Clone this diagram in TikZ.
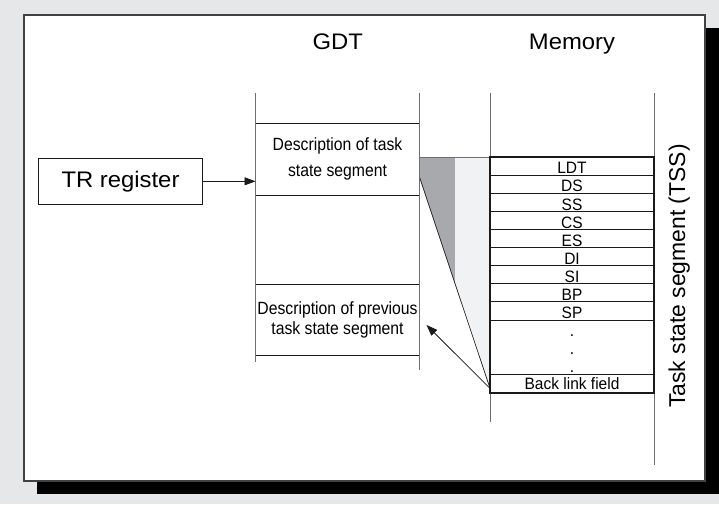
\documentclass[tikz,border=0pt]{standalone}
\usepackage{fontspec}
\setmainfont{Liberation Sans}
\newfontfamily\widefont{Liberation Sans}[FakeStretch=1.06]
\newfontfamily\descfont{Liberation Sans}[FakeStretch=0.89]
\newfontfamily\fieldfont{Liberation Sans}[FakeStretch=0.94]
\usepackage{tikz}
\usetikzlibrary{positioning, arrows.meta}
\definecolor{tssbg}{HTML}{E6E7E8}
\definecolor{tssink}{HTML}{1A1A1A}
\definecolor{tssgrid}{HTML}{6D6E71}
\definecolor{tssdark}{HTML}{A7A9AC}
\definecolor{tsslight}{HTML}{F1F2F3}

\begin{document}
\begin{tikzpicture}[
        x=1pt, y=-1pt,
        every node/.style={inner sep=0pt, outer sep=0pt},
        title/.style={
          font=\widefont\fontsize{22.5}{27}\selectfont,
          anchor=base,
        },
        trbox/.style={
          draw=tssink, line width=0.9pt,
          minimum width=164.4pt, minimum height=46pt,
          font=\widefont\fontsize{22.5}{27}\selectfont,
        },
        gdtbox/.style={
          draw=tssink, line width=0.9pt,
          minimum width=164pt, align=center,
        },
        field/.style={
          draw=tssink, line width=0.8pt,
          minimum width=164pt, minimum height=18.1pt,
          text height=16.8pt, text depth=1.3pt,
          font=\fieldfont\fontsize{16.5}{18}\selectfont,
        },
        colline/.style={
          draw=tssgrid, line width=0.9pt,
        },
        link/.style={
          -{Triangle[length=11pt, width=8pt]}, draw=tssink, line width=0.8pt,
        },
      ]
      \useasboundingbox (0,0) rectangle (719,504);
      \fill[tssbg] (0,0) rectangle (719,504);
      \fill[black] (37,28) rectangle (719,493.5);
      \draw[draw=tssgrid!60!black, line width=1.3pt, fill=white] (24,15) rectangle (705,481);

      \node[title] (gdt) at (337.7,49.3) {GDT};
      \node[title] (mem) at (572,49.3) {Memory};

      \node[trbox] (tr) at (120.5,181.3) {TR register};
      \node[gdtbox, minimum height=72pt,
        font=\descfont\fontsize{17.7}{25.7}\selectfont] (desc) at (337.5,159)
        {Description of task\\state segment};
      \node[gdtbox, minimum height=71pt,
        font=\descfont\fontsize{17.7}{20}\selectfont] (prev) at (337.5,319.5)
        {Description of previous\\task state segment};

      \node[field] (ldt) at (572,166.05) {LDT};
      \node[field, below=0pt of ldt] (ds) {DS};
      \node[field, below=0pt of ds] (ss) {SS};
      \node[field, below=0pt of ss] (cs) {CS};
      \node[field, below=0pt of cs] (es) {ES};
      \node[field, below=0pt of es] (di) {DI};
      \node[field, below=0pt of di] (si) {SI};
      \node[field, below=0pt of si] (bp) {BP};
      \node[field, below=0pt of bp] (sp) {SP};
      \node[field, below=0pt of sp, minimum height=54.3pt] (dots) {};
      \node[field, below=0pt of dots, minimum height=18.3pt,
        text height=15.2pt, text depth=3.1pt] (blf) {Back link field};
      \node[align=center, font=\fieldfont\fontsize{16.5}{18}\selectfont]
        (dotmarks) at ([yshift=-7pt]dots.center) {.\\.\\.};

      \coordinate (ts) at (desc.east |- ldt.north);
      \coordinate (dstart) at ([yshift=-18pt]desc.east);
      \coordinate (blc) at ([yshift=-5pt]blf.west);
      \coordinate (bltip) at ([xshift=7pt, yshift=-5.5pt]prev.east);

      \fill[tsslight] (ts) -- (ldt.north west) -- (blc) -- (dstart) -- cycle;
      \begin{scope}
        \clip (ts) -- (ldt.north west) -- (blc) -- (dstart) -- cycle;
        \fill[tssdark] (ts) rectangle (455,400);
      \end{scope}
      \draw[draw=tssgrid, line width=0.8pt] (ts) -- (ldt.north west);
      \draw[draw=tssink, line width=0.7pt] (dstart) -- (blc);

      \draw[colline] (255.5,93) -- (255.5,362);
      \draw[colline] (419.5,93) -- (419.5,370);
      \draw[colline] (490,93) -- (490,422);
      \draw[colline] (654,93) -- (654,465);
      \draw[draw=tssink, line width=2pt] (ldt.north west) rectangle (blf.south east);

      \draw[link] (tr.east) -- (tr.east -| desc.west);
      \draw[link] (blc) -- (bltip);

      \node[rotate=90, anchor=base, font=\fontsize{22.9}{27}\selectfont]
        (tsslabel) at (685,276) {Task state segment (TSS)};
    \end{tikzpicture}
\end{document}
